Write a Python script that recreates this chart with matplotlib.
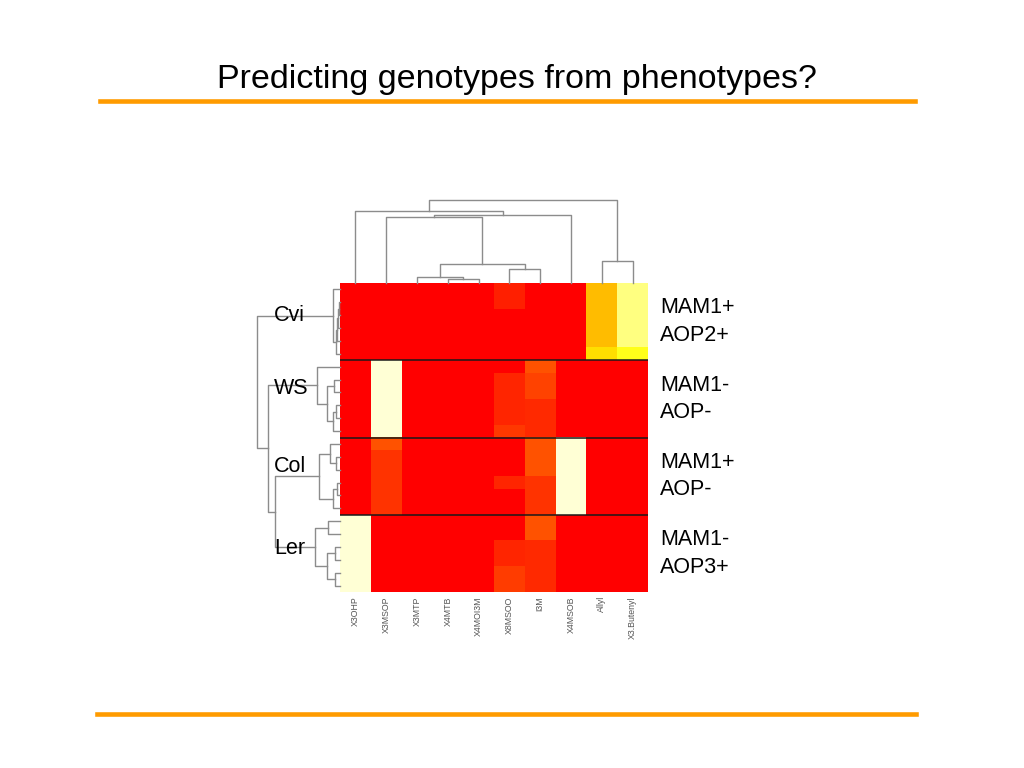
import matplotlib
matplotlib.use("Agg")
from matplotlib import pyplot as plt
from matplotlib.colors import LinearSegmentedColormap
from matplotlib.lines import Line2D
import numpy as np

plt.rcParams['font.family'] = ['Liberation Sans', 'DejaVu Sans']

# heat.colors(12) as used by R's heatmap()
heat_colors = ["#FF0000", "#FF2000", "#FF4000", "#FF6000", "#FF8000", "#FF9F00",
               "#FFBF00", "#FFDF00", "#FFFF00", "#FFFF2A", "#FFFF80", "#FFFFD5"]

compounds = ["X3OHP", "X3MSOP", "X3MTP", "X4MTB", "X4MOI3M", "X8MSOO",
             "I3M", "X4MSOB", "Allyl", "X3.Butenyl"]
accessions = ["Cvi", "WS", "Col", "Ler"]
genotypes = ["MAM1+\nAOP2+", "MAM1-\nAOP-", "MAM1+\nAOP-", "MAM1-\nAOP3+"]

# position on the heat scale (0 = red ... 11 = cream) per sample row and compound
values = [
    # Cvi
    [0, 0, 0, 0, 0, 1.0, 0, 0, 5.9, 10],
    [0, 0, 0, 0, 0, 1.0, 0, 0, 5.9, 10],
    [0, 0, 0, 0, 0, 0, 0, 0, 5.9, 10],
    [0, 0, 0, 0, 0, 0, 0, 0, 5.9, 10],
    [0, 0, 0, 0, 0, 0, 0, 0, 5.9, 10],
    [0, 0, 0, 0, 0, 0, 0, 0, 7.0, 8.6],
    # WS
    [0, 11, 0, 0, 0, 0, 2.6, 0, 0, 0],
    [0, 11, 0, 0, 0, 1.2, 2.1, 0, 0, 0],
    [0, 11, 0, 0, 0, 1.2, 2.1, 0, 0, 0],
    [0, 11, 0, 0, 0, 1.2, 1.3, 0, 0, 0],
    [0, 11, 0, 0, 0, 1.2, 1.3, 0, 0, 0],
    [0, 11, 0, 0, 0, 1.8, 1.3, 0, 0, 0],
    # Col
    [0, 2.6, 0, 0, 0, 0, 2.6, 11, 0, 0],
    [0, 1.6, 0, 0, 0, 0, 2.6, 11, 0, 0],
    [0, 1.6, 0, 0, 0, 0, 2.6, 11, 0, 0],
    [0, 1.6, 0, 0, 0, 1.2, 1.6, 11, 0, 0],
    [0, 1.6, 0, 0, 0, 0, 1.6, 11, 0, 0],
    [0, 1.6, 0, 0, 0, 0, 1.6, 11, 0, 0],
    # Ler
    [11, 0, 0, 0, 0, 0, 2.6, 0, 0, 0],
    [11, 0, 0, 0, 0, 0, 2.6, 0, 0, 0],
    [11, 0, 0, 0, 0, 1.2, 1.3, 0, 0, 0],
    [11, 0, 0, 0, 0, 1.2, 1.3, 0, 0, 0],
    [11, 0, 0, 0, 0, 1.9, 1.3, 0, 0, 0],
    [11, 0, 0, 0, 0, 1.9, 1.3, 0, 0, 0],
]
group_size = 6

# merges (a, b, height); ids >= n refer to earlier merges
col_merges = [(3, 4, 4.3), (2, 10, 5.7), (5, 6, 13.7), (11, 12, 19),
              (1, 13, 65.7), (14, 7, 68), (0, 15, 71.7), (8, 9, 22.3),
              (16, 17, 83)]
row_merges = [
    # Cvi 24..28
    (1, 2, 1), (24, 3, 2), (25, 4, 3), (26, 5, 4), (0, 27, 7),
    # WS 29..33
    (7, 8, 6), (9, 10, 4), (30, 11, 7), (29, 31, 13), (6, 32, 23),
    # Col 34..38
    (13, 14, 4), (12, 34, 10), (15, 16, 3), (36, 17, 7), (35, 37, 21),
    # Ler 39..43
    (18, 19, 12), (20, 21, 5), (22, 23, 5), (40, 41, 13), (39, 42, 25),
    # between groups
    (38, 43, 65), (33, 44, 72), (28, 45, 83),
]


def dendro_segments(merges, n):
    pos = {i: float(i) for i in range(n)}
    hgt = {i: 0.0 for i in range(n)}
    segs = []
    for k, (a, b, h) in enumerate(merges):
        segs.append(([pos[a], pos[a], pos[b], pos[b]], [hgt[a], h, h, hgt[b]]))
        pos[n + k] = (pos[a] + pos[b]) / 2
        hgt[n + k] = h
    return segs


W, H = 1024, 768
fig = plt.figure(figsize=(10.24, 7.68), dpi=100)


def px_axes(x0, y0, x1, y1):
    return fig.add_axes([x0 / W, 1 - y1 / H, (x1 - x0) / W, (y1 - y0) / H])


data = np.array(values)
nrow, ncol = data.shape
heat = LinearSegmentedColormap.from_list("heat", heat_colors, N=256)

# heatmap
ax = px_axes(340, 283, 648, 592)
ax.imshow(data, cmap=heat, vmin=0, vmax=len(heat_colors) - 1,
          aspect="auto", interpolation="nearest")
for g in range(1, len(accessions)):
    ax.axhline(g * group_size - 0.5, color="#1a1a1a", lw=1.1)
for s in ax.spines.values():
    s.set_visible(False)
ax.set_yticks([])
ax.set_xticks(range(ncol))
ax.set_xticklabels(compounds, rotation=90, fontsize=6.3, color="#555555")
ax.tick_params(axis="x", length=0, pad=3)

for g, lab in enumerate(genotypes):
    ax.text(9.9, g * group_size + 2.5, lab, fontsize=15.5, ha="left",
            va="center", linespacing=1.4)

# column dendrogram
axt = px_axes(340, 200, 648, 283)
for xs, ys in dendro_segments(col_merges, ncol):
    axt.plot(xs, ys, color="#8c8c8c", lw=1, clip_on=False)
axt.set_xlim(-0.5, ncol - 0.5)
axt.set_ylim(0, 83)
axt.axis("off")

# row dendrogram
axl = px_axes(257, 283, 340, 592)
for ys, xs in dendro_segments(row_merges, nrow):
    axl.plot(xs, ys, color="#8c8c8c", lw=1, clip_on=False)
axl.set_ylim(nrow - 0.5, -0.5)
axl.set_xlim(83, 0)
axl.axis("off")

label_y = [316, 389, 467, 549]
for lab, y in zip(accessions, label_y):
    fig.text(274 / W, 1 - y / H, lab, fontsize=15.5, ha="left", va="center")

# slide title and rules
fig.text(517 / W, 1 - 88 / H, "Predicting genotypes from phenotypes?",
         fontsize=24.5, ha="center", va="baseline")
fig.add_artist(Line2D([100 / W, 915 / W], [1 - 101 / H] * 2, color="#FF9B00", lw=3.3))
fig.add_artist(Line2D([97 / W, 916 / W], [1 - 714 / H] * 2, color="#FF9B00", lw=3.3))

fig.savefig("out.png", dpi=100)
